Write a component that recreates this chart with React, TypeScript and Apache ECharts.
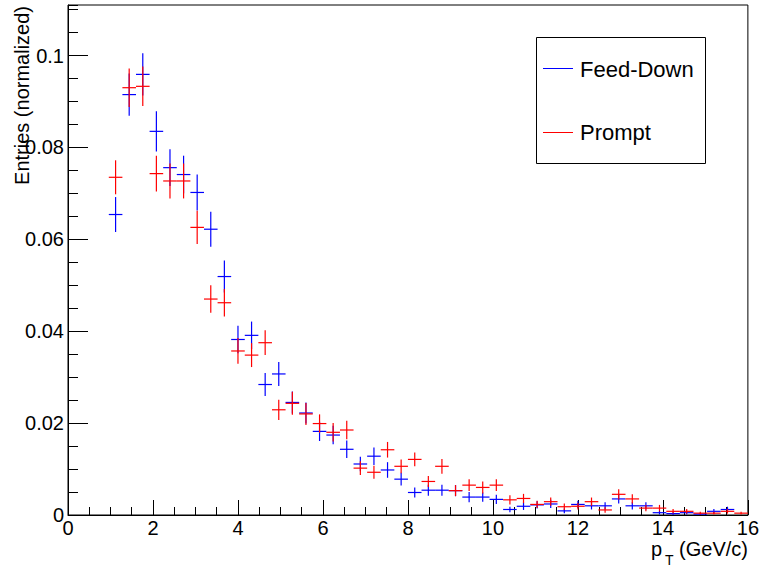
import React, { useEffect, useRef } from "react";
import * as echarts from "echarts";

const binCenters = [
  1.12, 1.44, 1.76, 2.08, 2.4, 2.72, 3.04, 3.36, 3.68, 4.0, 4.32, 4.64, 4.96, 5.28, 5.6, 5.92,
  6.24, 6.56, 6.88, 7.2, 7.52, 7.84, 8.16, 8.48, 8.8, 9.12, 9.44, 9.76, 10.08, 10.4, 10.72,
  11.04, 11.36, 11.68, 12.0, 12.32, 12.64, 12.96, 13.28, 13.6, 13.92, 14.24, 14.56, 14.88,
  15.2, 15.52, 15.84,
];
const binHalfWidth = 0.16;

const feedDown = [
  0.0654, 0.0915, 0.0959, 0.0835, 0.0756, 0.0741, 0.0702, 0.0622, 0.0519, 0.0382, 0.0391,
  0.0284, 0.0307, 0.0245, 0.0222, 0.0182, 0.0174, 0.0143, 0.0111, 0.0128, 0.0098, 0.0078,
  0.0049, 0.0054, 0.0054, 0.0053, 0.0039, 0.0039, 0.0034, 0.0012, 0.0019, 0.0022, 0.0024,
  0.0009, 0.0023, 0.002, 0.002, 0.0035, 0.002, 0.002, 0.0005, 0.0003, 0.0005, 0.0002, 0.0008,
  0.0012, 0.0,
];
const feedDownErr = [
  0.0038, 0.0046, 0.0046, 0.0044, 0.004, 0.0041, 0.0039, 0.0038, 0.0035, 0.003, 0.003,
  0.0025, 0.0026, 0.0024, 0.0023, 0.0021, 0.002, 0.0019, 0.0016, 0.0019, 0.0017, 0.0014,
  0.0011, 0.0012, 0.0012, 0.0012, 0.0011, 0.001, 0.001, 0.0006, 0.0008, 0.0008, 0.0009,
  0.0005, 0.0008, 0.0008, 0.0008, 0.001, 0.0008, 0.0008, 0.0004, 0.0003, 0.0004, 0.0002,
  0.0005, 0.0006, 0.0,
];
const prompt = [
  0.0735, 0.093, 0.0933, 0.0743, 0.0727, 0.0727, 0.0626, 0.047, 0.0462, 0.0357, 0.0348,
  0.0375, 0.0229, 0.0243, 0.022, 0.0199, 0.018, 0.0185, 0.0102, 0.0093, 0.0142, 0.0106,
  0.0121, 0.0073, 0.0106, 0.0053, 0.0065, 0.006, 0.0065, 0.0033, 0.0036, 0.0023, 0.0029,
  0.0018, 0.0019, 0.0029, 0.0011, 0.0045, 0.0035, 0.0015, 0.0015, 0.0008, 0.0008, 0.0004,
  0.0004, 0.0008, 0.0004,
];
const promptErr = [
  0.0037, 0.0042, 0.0043, 0.0039, 0.0038, 0.0038, 0.0036, 0.003, 0.003, 0.0028, 0.0026,
  0.0027, 0.0022, 0.0025, 0.0024, 0.002, 0.002, 0.002, 0.0015, 0.0014, 0.0017, 0.0015,
  0.0015, 0.0012, 0.0016, 0.0012, 0.0013, 0.0013, 0.0013, 0.001, 0.001, 0.0008, 0.0009,
  0.0007, 0.0007, 0.0009, 0.0006, 0.0011, 0.001, 0.0007, 0.0007, 0.0005, 0.0005, 0.0003,
  0.0003, 0.0005, 0.0003,
];

const xTickLabels = ["0", "2", "4", "6", "8", "10", "12", "14", "16"];
const yTickLabels = ["0", "0.02", "0.04", "0.06", "0.08", "0.1"];

const FONT = "'Liberation Sans', Arial, Helvetica, sans-serif";

function makeSeries(name: string, values: number[], errs: number[], color: string) {
  return {
    name,
    type: "custom",
    xAxisIndex: 0,
    yAxisIndex: 0,
    clip: true,
    encode: { x: 0, y: 1 },
    data: binCenters.map((c, i) => [c, values[i], errs[i]]),
    renderItem: (params: any, api: any) => {
      const x = api.value(0);
      const y = api.value(1);
      const e = api.value(2);
      if (!(y > 0)) return null;
      const l = api.coord([x - binHalfWidth, y]);
      const r = api.coord([x + binHalfWidth, y]);
      const t = api.coord([x, y + e]);
      const b = api.coord([x, Math.max(0, y - e)]);
      return {
        type: "group",
        children: [
          {
            type: "line",
            shape: { x1: l[0], y1: l[1], x2: r[0], y2: r[1] },
            style: { stroke: color, lineWidth: 1.2 },
          },
          {
            type: "line",
            shape: { x1: t[0], y1: t[1], x2: b[0], y2: b[1] },
            style: { stroke: color, lineWidth: 1.2 },
          },
        ],
      };
    },
  };
}

export default function App() {
  const ref = useRef<HTMLDivElement>(null);
  useEffect(() => {
    document.body.style.margin = "0";
    const chart = echarts.init(ref.current!, undefined, { renderer: "svg" });
    const option: any = {
      animation: false,
      backgroundColor: "#ffffff",
      textStyle: { fontFamily: FONT },
      grid: {
        left: 68,
        right: 14,
        top: 5,
        bottom: 55,
        show: true,
        borderColor: "#000",
        borderWidth: 1,
        backgroundColor: "transparent",
      },
      xAxis: {
        type: "value",
        min: 0,
        max: 16,
        interval: 2,
        axisLine: { show: true, onZero: false, lineStyle: { color: "#000", width: 1 } },
        axisTick: { show: true, inside: true, length: 15, lineStyle: { color: "#000" } },
        minorTick: { show: true, splitNumber: 4, length: 8, lineStyle: { color: "#000" } },
        splitLine: { show: false },
        minorSplitLine: { show: false },
        axisLabel: {
          color: "#000",
          fontSize: 20,
          fontFamily: FONT,
          margin: 3,
          formatter: (v: number) => {
            const idx = Math.round(v / 2);
            return Math.abs(v - idx * 2) < 1e-6 ? xTickLabels[idx] : "";
          },
        },
      },
      yAxis: [
        {
          type: "value",
          min: 0,
          max: 0.111,
          interval: 0.02,
          position: "left",
          axisLine: { show: true, onZero: false, lineStyle: { color: "#000", width: 1 } },
          axisTick: { show: true, inside: true, length: 20, lineStyle: { color: "#000" } },
          splitLine: { show: false },
          axisLabel: {
            color: "#000",
            fontSize: 20,
            fontFamily: FONT,
            margin: 4,
            showMaxLabel: false,
            formatter: (v: number) => {
              const idx = Math.round(v / 0.02);
              return Math.abs(v - idx * 0.02) < 1e-9 && idx < yTickLabels.length
                ? yTickLabels[idx]
                : "";
            },
          },
        },
        {
          type: "value",
          min: 0,
          max: 0.111,
          interval: 0.005,
          position: "left",
          offset: 0,
          axisLine: { show: false },
          axisTick: { show: true, inside: true, length: 10, lineStyle: { color: "#000" } },
          axisLabel: { show: false },
          splitLine: { show: false },
        },
      ],
      series: [
        makeSeries("Feed-Down", feedDown, feedDownErr, "#0000ff"),
        makeSeries("Prompt", prompt, promptErr, "#ff0000"),
      ],
      graphic: [
        {
          type: "text",
          x: 22,
          y: 6,
          rotation: Math.PI / 2,
          style: {
            text: "Entries (normalized)",
            fontSize: 20,
            fontFamily: FONT,
            fill: "#000",
            align: "right",
            verticalAlign: "middle",
          },
        },
        {
          type: "text",
          x: 651,
          y: 549,
          style: {
            text: "p",
            fontSize: 20,
            fontFamily: FONT,
            fill: "#000",
            align: "left",
            verticalAlign: "middle",
          },
        },
        {
          type: "text",
          x: 665,
          y: 560,
          style: {
            text: "T",
            fontSize: 14,
            fontFamily: FONT,
            fill: "#000",
            align: "left",
            verticalAlign: "middle",
          },
        },
        {
          type: "text",
          x: 748,
          y: 549,
          style: {
            text: "(GeV/c)",
            fontSize: 20,
            fontFamily: FONT,
            fill: "#000",
            align: "right",
            verticalAlign: "middle",
          },
        },
        {
          type: "rect",
          shape: { x: 536.5, y: 37.5, width: 169, height: 126 },
          style: { fill: "#fff", stroke: "#000", lineWidth: 1 },
          z: 10,
        },
        {
          type: "line",
          shape: { x1: 543, y1: 68.5, x2: 573, y2: 68.5 },
          style: { stroke: "#0000ff", lineWidth: 1 },
          z: 11,
        },
        {
          type: "text",
          x: 580,
          y: 69,
          style: {
            text: "Feed-Down",
            fontSize: 22,
            fontFamily: FONT,
            fill: "#000",
            align: "left",
            verticalAlign: "middle",
          },
          z: 11,
        },
        {
          type: "line",
          shape: { x1: 543, y1: 132.5, x2: 573, y2: 132.5 },
          style: { stroke: "#ff0000", lineWidth: 1 },
          z: 11,
        },
        {
          type: "text",
          x: 580,
          y: 132,
          style: {
            text: "Prompt",
            fontSize: 22,
            fontFamily: FONT,
            fill: "#000",
            align: "left",
            verticalAlign: "middle",
          },
          z: 11,
        },
      ],
    };
    chart.setOption(option);
    return () => chart.dispose();
  }, []);
  return <div ref={ref} style={{ width: 762, height: 570 }} />;
}
